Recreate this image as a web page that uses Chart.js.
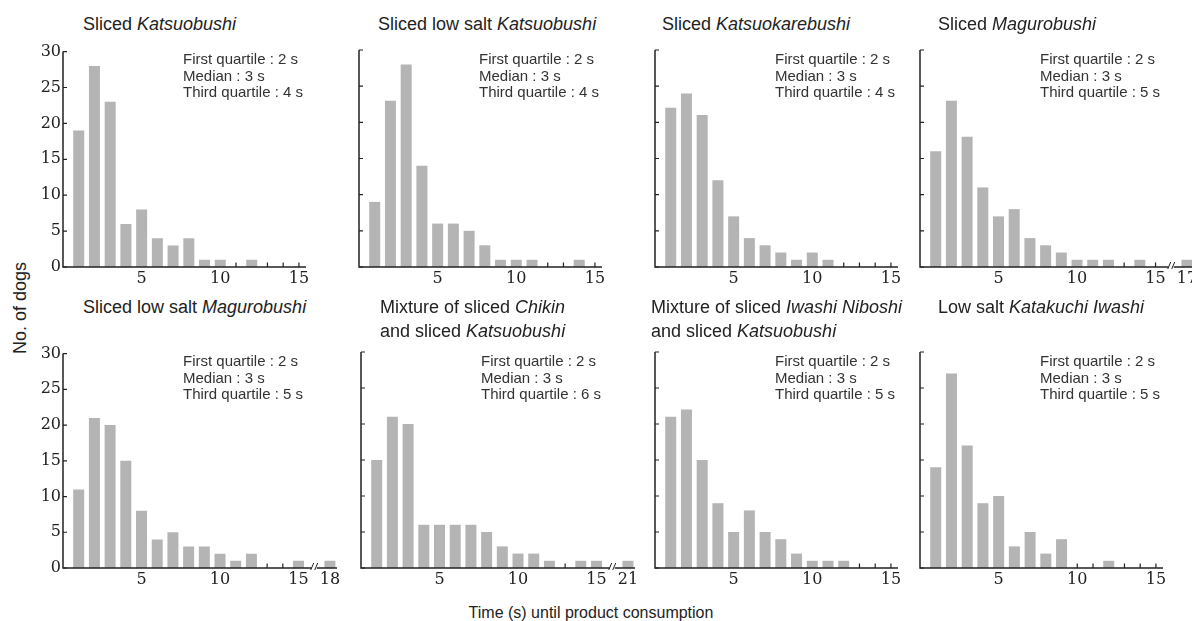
<!DOCTYPE html>
<html lang="en">
<head>
  <meta charset="UTF-8">
  <title>Time until product consumption</title>
  <script src="https://cdn.jsdelivr.net/npm/chart.js"></script>
  <style>
    body { margin: 0; background: #fff; font-family: "Liberation Sans", Arial, sans-serif; color: #222; }
    #wrap { position: relative; width: 1192px; height: 621px; overflow: hidden; }
    canvas { position: absolute; }
    .title { position: absolute; font-size: 18px; line-height: 24px; white-space: nowrap; }
    .quart { position: absolute; font-size: 15px; line-height: 16.5px; white-space: nowrap; color: #333; }
    .ylab { position: absolute; left: 20px; top: 308px; transform: translate(-50%, -50%) rotate(-90deg); font-size: 18px; white-space: nowrap; }
    .xlab { position: absolute; left: 591px; top: 604px; transform: translateX(-50%); font-size: 16px; line-height: 18px; white-space: nowrap; }
  </style>
</head>
<body>
<div id="wrap">
  <div class="ylab">No. of dogs</div>
  <div class="xlab">Time (s) until product consumption</div>
</div>

<script>
// seconds 1..15, one bar each
const binTimes = [1, 2, 3, 4, 5, 6, 7, 8, 9, 10, 11, 12, 13, 14, 15];

const katsuobushi        = [19, 28, 23, 6, 8, 4, 3, 4, 1, 1, 0, 1, 0, 0, 0];
const lowSaltKatsuobushi = [9, 23, 28, 14, 6, 6, 5, 3, 1, 1, 1, 0, 0, 1, 0];
const katsuokarebushi    = [22, 24, 21, 12, 7, 4, 3, 2, 1, 2, 1, 0, 0, 0, 0];
const magurobushi        = [16, 23, 18, 11, 7, 8, 4, 3, 2, 1, 1, 1, 0, 1, 0];
const lowSaltMagurobushi = [11, 21, 20, 15, 8, 4, 5, 3, 3, 2, 1, 2, 0, 0, 1];
const chikinMix          = [15, 21, 20, 6, 6, 6, 6, 5, 3, 2, 2, 1, 0, 1, 1];
const nibosiMix          = [21, 22, 15, 9, 5, 8, 5, 4, 2, 1, 1, 1, 0, 0, 0];
const katakuchiIwashi    = [14, 27, 17, 9, 10, 3, 5, 2, 4, 0, 0, 1, 0, 0, 0];

// the single outlier after the axis break (null = no break)
const tailTime  = [null, null, null, 17, 18, 21, null, null];
const tailCount = [0, 0, 0, 1, 1, 1, 0, 0];

const titles = [
  'Sliced <i>Katsuobushi</i>',
  'Sliced low salt <i>Katsuobushi</i>',
  'Sliced <i>Katsuokarebushi</i>',
  'Sliced <i>Magurobushi</i>',
  'Sliced low salt <i>Magurobushi</i>',
  'Mixture of sliced <i>Chikin</i><br>and sliced <i>Katsuobushi</i>',
  'Mixture of sliced <i>Iwashi Niboshi</i><br>and sliced <i>Katsuobushi</i>',
  'Low salt <i>Katakuchi Iwashi</i>'
];
const firstQuartile = [2, 2, 2, 2, 2, 2, 2, 2];
const medianTime    = [3, 3, 3, 3, 3, 3, 3, 3];
const thirdQuartile = [4, 4, 4, 5, 5, 6, 5, 5];

const yTicks = [0, 5, 10, 15, 20, 25, 30];
const xLabelTimes = [5, 10, 15];

const series = [katsuobushi, lowSaltKatsuobushi, katsuokarebushi, magurobushi,
                lowSaltMagurobushi, chikinMix, nibosiMix, katakuchiIwashi];

// layout
const axisLeft = [63, 359, 655, 920, 63, 361, 655, 920];
const plotTop  = [50, 50, 50, 50, 352, 352, 352, 352];
const plotH    = [217, 217, 217, 217, 216, 216, 216, 216];
const titleX   = [83, 378, 662, 938, 83, 380, 651, 938];
const titleTop = [12, 12, 12, 12, 295, 295, 295, 295];
const pxPerSec = 15.72;
const tailSlot = 17, breakSlot = 16;
const yAxisW = 40, xAxisH = 24, padTop = 10, padRight = 12;
const ink = '#222';
const tickFont = { family: 'DejaVu Serif', size: 16 };

function axesPlugin(hasTail) {
  return {
    id: 'axes',
    beforeDatasetsDraw(chart) {
      const { ctx, chartArea: a, scales: { x, y } } = chart;
      ctx.save();
      ctx.strokeStyle = ink;
      ctx.lineWidth = 1.2;
      ctx.beginPath();
      yTicks.forEach(v => {
        const py = y.getPixelForValue(v);
        ctx.moveTo(a.left, py); ctx.lineTo(a.left + 4, py);
      });
      const slots = hasTail ? binTimes.concat([tailSlot]) : binTimes;
      slots.forEach(v => {
        const px = x.getPixelForValue(v);
        ctx.moveTo(px, a.bottom); ctx.lineTo(px, a.bottom - 4.5);
      });
      ctx.stroke();
      ctx.restore();
    },
    afterDatasetsDraw(chart) {
      const { ctx, chartArea: a, scales: { x } } = chart;
      ctx.save();
      ctx.strokeStyle = ink;
      ctx.lineWidth = 1.5;
      ctx.beginPath();
      ctx.moveTo(a.left, a.top); ctx.lineTo(a.left, a.bottom);
      ctx.moveTo(a.left - 0.75, a.bottom); ctx.lineTo(a.right, a.bottom);
      ctx.stroke();
      if (hasTail) {
        const bx = x.getPixelForValue(breakSlot);
        ctx.fillStyle = '#fff';
        ctx.fillRect(bx - 2.5, a.bottom - 2, 5, 4);
        ctx.lineWidth = 1;
        ctx.beginPath();
        [-2, 2].forEach(o => {
          ctx.moveTo(bx + o - 1.5, a.bottom + 2);
          ctx.lineTo(bx + o + 1.5, a.bottom - 5);
        });
        ctx.stroke();
      }
      ctx.restore();
    }
  };
}

const wrap = document.getElementById('wrap');

series.forEach((counts, i) => {
  const hasTail = tailTime[i] !== null;
  const xMax = hasTail ? 17.45 : 15.45;
  const plotW = Math.round(xMax * pxPerSec);
  const col = i % 4;

  const canvas = document.createElement('canvas');
  canvas.width = yAxisW + plotW + padRight;
  canvas.height = padTop + plotH[i] + xAxisH;
  canvas.style.left = (axisLeft[i] - yAxisW) + 'px';
  canvas.style.top = (plotTop[i] - padTop) + 'px';
  wrap.appendChild(canvas);

  const points = binTimes.map((t, k) => ({ x: t, y: counts[k] }));
  if (hasTail) points.push({ x: tailSlot, y: tailCount[i] });

  const labelSlots = hasTail ? xLabelTimes.concat([tailSlot]) : xLabelTimes;

  new Chart(canvas, {
    type: 'bar',
    data: {
      datasets: [{
        data: points,
        backgroundColor: '#b4b4b4',
        borderWidth: 0,
        barPercentage: 0.7,
        categoryPercentage: 1
      }]
    },
    options: {
      responsive: false,
      animation: false,
      events: [],
      layout: { padding: { top: padTop, right: padRight, left: 0, bottom: 0 } },
      plugins: { legend: { display: false }, tooltip: { enabled: false } },
      scales: {
        x: {
          type: 'linear',
          min: 0,
          max: xMax,
          offset: false,
          grid: { display: false, drawTicks: false, offset: false },
          border: { display: false },
          afterBuildTicks: s => { s.ticks = labelSlots.map(v => ({ value: v })); },
          afterFit: s => { s.height = xAxisH; },
          ticks: {
            autoSkip: false,
            maxRotation: 0,
            padding: 2,
            color: ink,
            font: tickFont,
            callback: v => v === tailSlot ? String(tailTime[i]) : String(v)
          }
        },
        y: {
          min: 0,
          max: 30,
          grid: { display: false, drawTicks: false },
          border: { display: false },
          afterFit: s => { s.width = yAxisW; },
          ticks: {
            display: col === 0,
            stepSize: 5,
            padding: 2,
            color: ink,
            font: tickFont
          }
        }
      }
    },
    plugins: [axesPlugin(hasTail)]
  });

  const t = document.createElement('div');
  t.className = 'title';
  t.style.left = titleX[i] + 'px';
  t.style.top = titleTop[i] + 'px';
  t.innerHTML = titles[i];
  wrap.appendChild(t);

  const q = document.createElement('div');
  q.className = 'quart';
  q.style.left = (axisLeft[i] + 120) + 'px';
  q.style.top = (plotTop[i] + 1) + 'px';
  q.innerHTML = 'First quartile : ' + firstQuartile[i] + ' s<br>' +
                'Median : ' + medianTime[i] + ' s<br>' +
                'Third quartile : ' + thirdQuartile[i] + ' s';
  wrap.appendChild(q);
});
</script>
</body>
</html>
